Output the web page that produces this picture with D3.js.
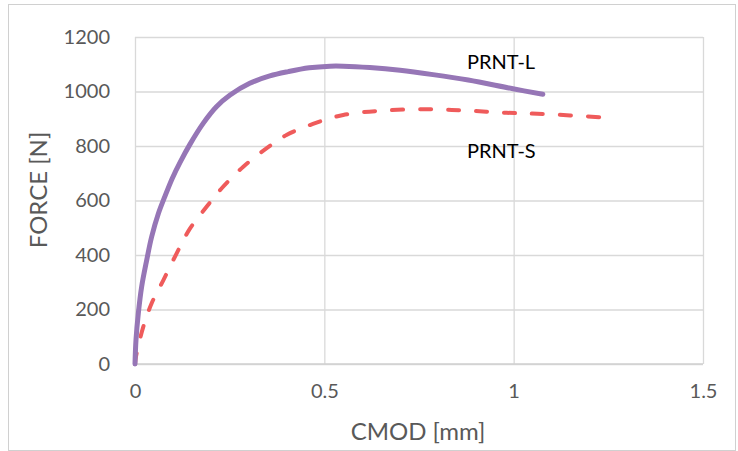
<!DOCTYPE html>
<meta charset="utf-8">
<head>
  <title>CMOD vs Force</title>
</head>
<style>
body { margin: 0; background: #fff; }
.grid line { stroke: #d9d9d9; stroke-width: 1.3px; }
.tick text { font-family: Lato, "Open Sans", sans-serif; font-size: 20px; fill: #595959; }
.lineL { fill: none; stroke: #9676b6; stroke-width: 5px; stroke-linecap: round; stroke-linejoin: round; }
.lineS { fill: none; stroke: #ef5b5b; stroke-width: 4px; stroke-linecap: round; stroke-dasharray: 11,17; }
</style>
<body>
<script src="https://d3js.org/d3.v7.min.js"></script>
<script>

// tick values
var xTicks = [0, 0.5, 1, 1.5];
var yTicks = [0, 200, 400, 600, 800, 1000, 1200];

// PRNT-L (CMOD mm, force N)
var prntL_x = [0, 0.0026, 0.0088, 0.0176, 0.031, 0.044, 0.062, 0.079, 0.098, 0.119, 0.145, 0.180, 0.215, 0.251, 0.303, 0.356, 0.405, 0.46, 0.515, 0.55, 0.62, 0.70, 0.787, 0.88, 0.998, 1.077];
var prntL_y = [0, 88, 186, 284, 382, 467, 553, 615, 680, 740, 806, 883, 944, 987, 1030, 1057, 1073, 1087, 1093, 1093, 1088, 1078, 1062, 1042, 1010, 990];

// PRNT-S
var prntS_x = [0, 0.0026, 0.022, 0.044, 0.075, 0.110, 0.143, 0.189, 0.229, 0.286, 0.347, 0.400, 0.47, 0.55, 0.655, 0.77, 0.875, 0.981, 1.086, 1.233];
var prntS_y = [0, 27, 137, 223, 308, 406, 492, 577, 645, 724, 791, 840, 881, 914, 930, 935, 930, 922, 917, 905];

var width = 738, height = 451;
var plot = {left: 135, right: 703, top: 37, bottom: 364};

var svg = d3.select("body").append("svg")
    .attr("width", width)
    .attr("height", height);

// chart frame
svg.append("rect")
    .attr("x", 8.5).attr("y", 4.5)
    .attr("width", 727).attr("height", 446)
    .attr("fill", "#fff")
    .attr("stroke", "#d0d0d0")
    .attr("stroke-width", 1);

var x = d3.scaleLinear().domain([0, 1.5]).range([plot.left, plot.right]);
var y = d3.scaleLinear().domain([0, 1200]).range([plot.bottom, plot.top]);

// horizontal gridlines + y labels
var yAxis = svg.append("g")
    .attr("class", "grid")
    .attr("transform", "translate(" + plot.left + ",0)")
    .call(d3.axisLeft(y).tickValues(yTicks).tickFormat(d3.format("")).tickSize(-(plot.right - plot.left)).tickPadding(25));
yAxis.select(".domain").remove();

// vertical gridlines + x labels
var xAxis = svg.append("g")
    .attr("class", "grid")
    .attr("transform", "translate(0," + plot.bottom + ")")
    .call(d3.axisBottom(x).tickValues(xTicks).tickFormat(d3.format("")).tickSize(-(plot.bottom - plot.top)).tickPadding(20));
xAxis.select(".domain").remove();

// zero line a bit darker
svg.append("line")
    .attr("x1", plot.left).attr("x2", plot.right)
    .attr("y1", y(0)).attr("y2", y(0))
    .style("stroke", "#d0d0d0").style("stroke-width", "1.5px");

var line = d3.line()
    .x(function(d) { return x(d[0]); })
    .y(function(d) { return y(d[1]); })
    .curve(d3.curveCatmullRom.alpha(0.5));

svg.append("path")
    .datum(d3.zip(prntS_x, prntS_y))
    .attr("class", "lineS")
    .attr("d", line);

svg.append("path")
    .datum(d3.zip(prntL_x, prntL_y))
    .attr("class", "lineL")
    .attr("d", line);

// series labels
svg.append("text")
    .attr("x", 467).attr("y", 69)
    .style("font-family", "Lato, sans-serif").style("font-size", "20px").attr("fill", "#000")
    .text("PRNT-L");
svg.append("text")
    .attr("x", 467).attr("y", 158)
    .style("font-family", "Lato, sans-serif").style("font-size", "20px").attr("fill", "#000")
    .text("PRNT-S");

// axis titles
svg.append("text")
    .attr("x", 418).attr("y", 440)
    .attr("text-anchor", "middle")
    .style("font-family", "Lato, sans-serif").style("font-size", "24px").attr("fill", "#595959")
    .text("CMOD [mm]");
svg.append("text")
    .attr("transform", "translate(47,190) rotate(-90)")
    .attr("text-anchor", "middle")
    .style("font-family", "Lato, sans-serif").style("font-size", "24px").attr("fill", "#595959")
    .text("FORCE [N]");

</script>
</body>
